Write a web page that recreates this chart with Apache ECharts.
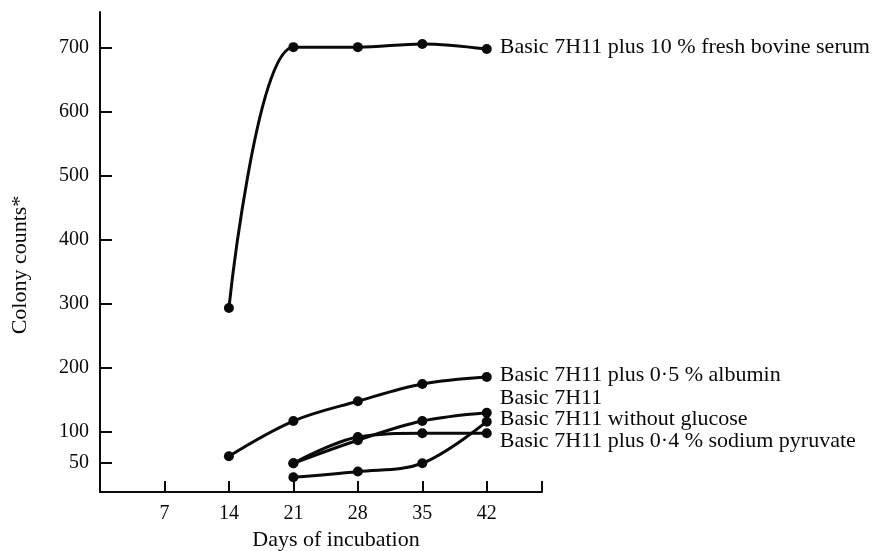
<!DOCTYPE html>
<html>
<head>
<meta charset="utf-8">
<script src="https://cdn.jsdelivr.net/npm/echarts@6/dist/echarts.min.js"></script>
<style>
  html, body { margin: 0; padding: 0; background: #fff; }
  #chart { width: 880px; height: 551px; }
</style>
</head>
<body>
<div id="chart"></div>
<script>
// ---- data ----
const days = [14, 21, 28, 35, 42];
const serum     = [293, 701, 701, 706, 698];
const albumin   = [61, 116, 147, 174, 185];
const basic     = [null, 50, 86, 116, 129];
const noGlucose = [null, 28, 37, 50, 115];
const pyruvate  = [null, 50, 91, 97, 97];

const seriesNames = [
  'Basic 7H11 plus 10 % fresh bovine serum',
  'Basic 7H11 plus 0·5 % albumin',
  'Basic 7H11',
  'Basic 7H11 without glucose',
  'Basic 7H11 plus 0·4 % sodium pyruvate'
];
const xTickValues = [7, 14, 21, 28, 35, 42, 48];
const xLabelValues = [7, 14, 21, 28, 35, 42];
const yTickValues = [50, 100, 200, 300, 400, 500, 600, 700];

const FONT = 'Liberation Serif';
const INK = '#0a0a0a';

function pairs(vals) {
  const out = [];
  vals.forEach((v, i) => { if (v !== null) out.push([days[i], v]); });
  return out;
}

const labelOffsets = [[0, -2], [0, -2], [0, -15], [0, -2], [0, 8]];
const allVals = [serum, albumin, basic, noGlucose, pyruvate];

const series = allVals.map((vals, i) => ({
  name: seriesNames[i],
  type: 'line',
  data: pairs(vals),
  smooth: 0.35,
  symbol: 'circle',
  symbolSize: 10,
  lineStyle: { color: INK, width: 3 },
  itemStyle: { color: INK },
  endLabel: {
    show: true,
    formatter: seriesNames[i],
    color: INK,
    fontFamily: FONT,
    fontSize: 22,
    distance: 13,
    offset: labelOffsets[i]
  },
  labelLayout: { hideOverlap: false },
  animation: false
}));

const chart = echarts.init(document.getElementById('chart'), null, { renderer: 'canvas' });
chart.setOption({
  backgroundColor: '#fff',
  animation: false,
  grid: { left: 100, right: 338, top: 12, bottom: 59, containLabel: false, outerBoundsMode: 'none' },
  xAxis: {
    type: 'value',
    min: 0,
    max: 48,
    name: 'Days of incubation',
    nameLocation: 'middle',
    nameGap: 36,
    nameTextStyle: { color: INK, fontFamily: FONT, fontSize: 22, padding: [0, 0, 0, 30] },
    axisLine: { show: true, onZero: false, lineStyle: { color: INK, width: 2 } },
    axisTick: { show: true, inside: true, length: 11, customValues: xTickValues, lineStyle: { color: INK, width: 2 } },
    axisLabel: { customValues: xLabelValues, color: INK, fontFamily: FONT, fontSize: 20, margin: 12 },
    splitLine: { show: false }
  },
  yAxis: {
    type: 'value',
    min: 5,
    max: 756,
    name: 'Colony counts*',
    nameLocation: 'middle',
    nameGap: 69,
    nameTextStyle: { color: INK, fontFamily: FONT, fontSize: 22, padding: [0, 26, 0, 0] },
    axisLine: { show: true, onZero: false, lineStyle: { color: INK, width: 2 } },
    axisTick: { show: true, inside: true, length: 12, customValues: yTickValues, lineStyle: { color: INK, width: 2 } },
    axisLabel: { customValues: yTickValues, color: INK, fontFamily: FONT, fontSize: 20, margin: 11 },
    splitLine: { show: false }
  },
  series: series
});
</script>
</body>
</html>
